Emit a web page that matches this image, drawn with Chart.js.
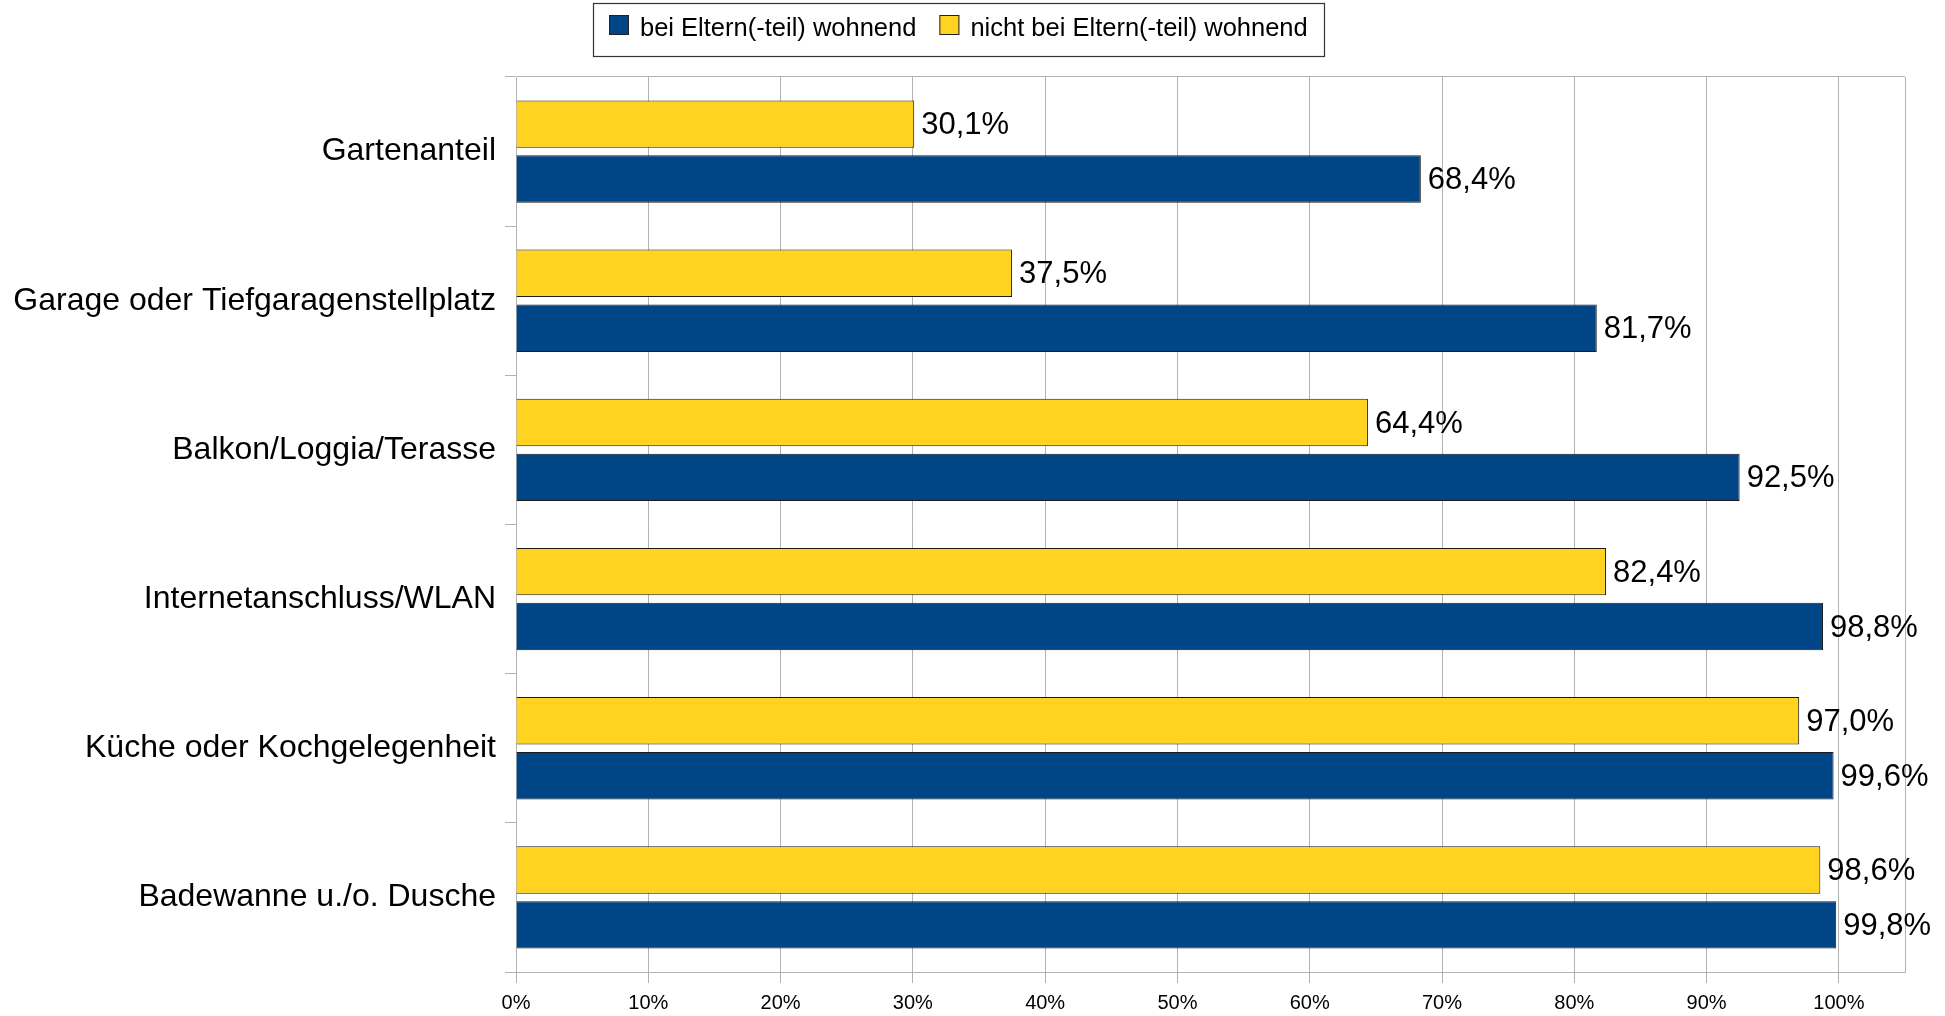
<!DOCTYPE html>
<html>
<head>
<meta charset="utf-8">
<script src="https://cdn.jsdelivr.net/npm/chart.js@4/dist/chart.umd.min.js"></script>
<style>
  html, body { margin: 0; padding: 0; background: #fff; }
  canvas { display: block; }
</style>
</head>
<body>
<canvas id="chart" width="1945" height="1016"></canvas>
<script>
// Data
const categories = [
    'Gartenanteil',
    'Garage oder Tiefgaragenstellplatz',
    'Balkon/Loggia/Terasse',
    'Internetanschluss/WLAN',
    'Küche oder Kochgelegenheit',
    'Badewanne u./o. Dusche'
];
const seriesNames = ['bei Eltern(-teil) wohnend', 'nicht bei Eltern(-teil) wohnend'];
const beiEltern = [68.4, 81.7, 92.5, 98.8, 99.6, 99.8];
const nichtBeiEltern = [30.1, 37.5, 64.4, 82.4, 97.0, 98.6];
const xTicks = [0, 10, 20, 30, 40, 50, 60, 70, 80, 90, 100];

const BLUE = '#004586';
const YELLOW = '#ffd320';
const GRID = '#b3b3b3';
const FONT = '"Liberation Sans", Arial, sans-serif';

const fmt = v => v.toFixed(1).replace('.', ',') + '%';

// value labels right of each bar
const valueLabels = {
    id: 'valueLabels',
    afterDatasetsDraw(chart) {
        const ctx = chart.ctx;
        ctx.save();
        ctx.font = '31px ' + FONT;
        ctx.fillStyle = '#000';
        ctx.textAlign = 'left';
        ctx.textBaseline = 'middle';
        chart.data.datasets.forEach((ds, i) => {
            chart.getDatasetMeta(i).data.forEach((bar, j) => {
                ctx.fillText(fmt(ds.data[j]), bar.x + 7, bar.y + 1.5);
            });
        });
        ctx.restore();
    }
};

// framed legend above the plot (blue entry first)
const framedLegend = {
    id: 'framedLegend',
    afterDraw(chart) {
        const ctx = chart.ctx;
        const items = [chart.data.datasets[1], chart.data.datasets[0]];
        ctx.save();
        ctx.font = '25.5px ' + FONT;
        const sw = 20, gapText = 11, gapItem = 23, padX = 16;
        let total = 0;
        items.forEach((ds, k) => {
            total += sw + gapText + ctx.measureText(ds.label).width;
            if (k < items.length - 1) total += gapItem;
        });
        const boxW = total + padX * 2;
        const left = Math.round(958 - boxW / 2);
        ctx.strokeStyle = '#333';
        ctx.lineWidth = 1.2;
        ctx.strokeRect(left + 0.5, 3.5, Math.round(boxW), 53);
        let x = left + padX;
        items.forEach(ds => {
            ctx.fillStyle = ds.backgroundColor;
            ctx.fillRect(x, 15, sw, sw);
            ctx.strokeStyle = '#222';
            ctx.lineWidth = 1;
            ctx.strokeRect(x + 0.5, 15.5, sw - 1, sw - 1);
            x += sw + gapText;
            ctx.fillStyle = '#000';
            ctx.textBaseline = 'alphabetic';
            ctx.fillText(ds.label, x, 35.5);
            x += ctx.measureText(ds.label).width + gapItem;
        });
        ctx.restore();
    }
};

new Chart(document.getElementById('chart'), {
    type: 'bar',
    data: {
        labels: categories,
        datasets: [{
            label: seriesNames[1],
            data: nichtBeiEltern,
            backgroundColor: YELLOW,
            borderColor: '#1a1a1a',
            borderWidth: 1,
            categoryPercentage: 0.736,
            barPercentage: 0.864
        }, {
            label: seriesNames[0],
            data: beiEltern,
            backgroundColor: BLUE,
            borderColor: '#1a1a1a',
            borderWidth: 1,
            categoryPercentage: 0.736,
            barPercentage: 0.864
        }]
    },
    options: {
        indexAxis: 'y',
        responsive: false,
        animation: false,
        devicePixelRatio: 1,
        layout: { padding: { top: 77, right: 40, bottom: 0, left: 0 } },
        plugins: {
            legend: { display: false },
            tooltip: { enabled: false }
        },
        scales: {
            x: {
                min: 0,
                max: 105,
                afterBuildTicks: scale => {
                    scale.ticks = xTicks.concat([105]).map(v => ({ value: v }));
                },
                afterFit: scale => { scale.height = scale.height - 7; },
                grid: {
                    color: GRID,
                    lineWidth: 1,
                    tickLength: 11,
                    tickColor: c => (c.tick && c.tick.value === 105) ? 'rgba(0,0,0,0)' : GRID
                },
                border: { display: true, color: GRID, width: 1 },
                ticks: {
                    font: { family: FONT, size: 20 },
                    color: '#000',
                    padding: 8,
                    maxRotation: 0,
                    autoSkip: false,
                    callback: v => v === 105 ? '' : v + '%'
                }
            },
            y: {
                afterFit: scale => { scale.width = 516; },
                grid: {
                    offset: true,
                    color: c => (c.index === 0 || c.index === categories.length) ? GRID : 'rgba(0,0,0,0)',
                    tickColor: GRID,
                    tickLength: 11
                },
                border: { display: true, color: GRID, width: 1 },
                ticks: {
                    font: { family: FONT, size: 32 },
                    color: '#000',
                    padding: 9
                }
            }
        }
    },
    plugins: [valueLabels, framedLegend]
});
</script>
</body>
</html>
